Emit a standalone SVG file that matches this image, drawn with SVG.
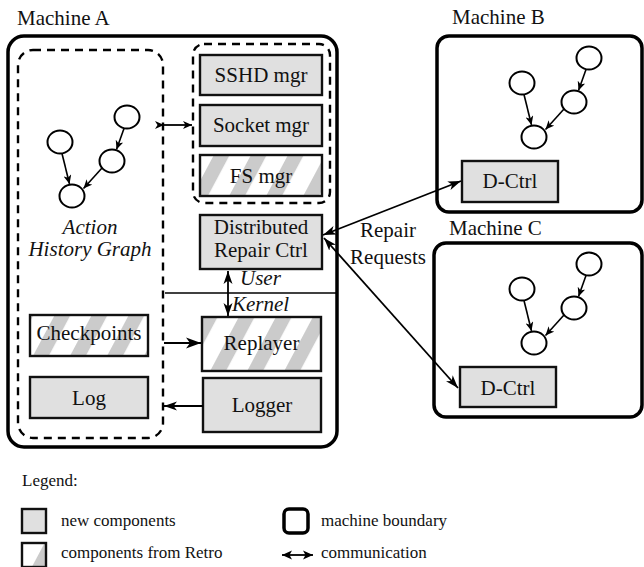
<svg xmlns="http://www.w3.org/2000/svg" width="644" height="567" viewBox="0 0 644 567">
<style>
text{font-family:"Liberation Serif","Times New Roman",serif;fill:#111}
.t{font-size:21px}
.it{font-size:21px;font-style:italic}
.lg{font-size:17px}
.mach{fill:#fff;stroke:#000;stroke-width:3.5}
.dash{fill:none;stroke:#000;stroke-width:2.4;stroke-dasharray:8 6}
.new{fill:#e0e0e0;stroke:#111;stroke-width:2.4}
.retro{fill:url(#hatch);stroke:#111;stroke-width:2.4}
.circ{fill:#fff;stroke:#000;stroke-width:2}
.edge{fill:none;stroke:#000;stroke-width:1.6;marker-end:url(#sm)}
.con{fill:none;stroke:#000;stroke-width:1.8}
</style>
<defs>
<pattern id="hatch" patternUnits="userSpaceOnUse" width="32.7" height="10" patternTransform="rotate(28)">
<rect width="32.7" height="10" fill="#fff"/>
<rect width="14" height="10" fill="#cbcbcb"/>
</pattern>
<marker id="sm" markerUnits="userSpaceOnUse" markerWidth="10" markerHeight="8" refX="9" refY="4" orient="auto">
<path d="M0,0 L9,4 L0,8 L2.5,4 z" fill="#000"/>
</marker>
<marker id="ah" markerUnits="userSpaceOnUse" markerWidth="14" markerHeight="10" refX="13" refY="5" orient="auto-start-reverse">
<path d="M0,0.5 L13,5 L0,9.5 L3.5,5 z" fill="#000"/>
</marker>
<marker id="ahb" markerUnits="userSpaceOnUse" markerWidth="16" markerHeight="12" refX="15" refY="6" orient="auto-start-reverse">
<path d="M0,0.5 L15,6 L0,11.5 L4,6 z" fill="#000"/>
</marker>
<marker id="lgh" markerUnits="userSpaceOnUse" markerWidth="11" markerHeight="10" refX="10" refY="5" orient="auto-start-reverse">
<path d="M0,0.5 L10,5 L0,9.5 L2.5,5 z" fill="#000"/>
</marker>
<g id="graph">
<path class="edge" d="M62,153.5 L69.5,184"/>
<path class="edge" d="M124,128.5 L116.5,149.5"/>
<path class="edge" d="M102,168 L83.5,188.5"/>
<ellipse class="circ" cx="60" cy="142" rx="12.5" ry="11.5"/>
<ellipse class="circ" cx="127" cy="117" rx="12.5" ry="11.5"/>
<ellipse class="circ" cx="112" cy="161" rx="12.5" ry="11.5"/>
<ellipse class="circ" cx="72" cy="196" rx="12.5" ry="11.5"/>
</g>
</defs>

<g id="machineA">
<text class="t" x="17" y="25">Machine A</text>
<rect class="mach" x="8" y="36" width="329" height="411" rx="16"/>
</g>
<g id="machineB">
<text class="t" x="452" y="24">Machine B</text>
<rect class="mach" x="437" y="36" width="205" height="176" rx="12"/>
</g>
<g id="machineC">
<text class="t" x="449" y="235">Machine C</text>
<rect class="mach" x="434" y="243" width="208" height="174" rx="12"/>
</g>

<g id="actionHistoryGraph">
<rect class="dash" x="18" y="50" width="145" height="388" rx="15"/>
<use href="#graph"/>
<text class="it" x="90" y="234" text-anchor="middle">Action</text>
<text class="it" x="90" y="256" text-anchor="middle">History Graph</text>
</g>
<g id="mgrGroup">
<rect class="dash" x="193" y="44" width="137" height="159" rx="11"/>
</g>
<g id="sshd">
<rect class="new" x="200" y="55" width="122" height="40"/>
<text class="t" x="261" y="81.5" text-anchor="middle">SSHD mgr</text>
</g>
<g id="socket">
<rect class="new" x="200" y="105" width="122" height="41"/>
<text class="t" x="261" y="132" text-anchor="middle">Socket mgr</text>
</g>
<g id="fs">
<rect class="retro" x="200" y="155" width="122" height="41"/>
<text class="t" x="261" y="182.5" text-anchor="middle">FS mgr</text>
</g>
<g id="drc">
<rect class="new" x="200" y="215" width="122" height="54"/>
<text class="t" x="261" y="234" text-anchor="middle">Distributed</text>
<text class="t" x="261" y="257" text-anchor="middle">Repair Ctrl</text>
</g>
<g id="checkpoints">
<rect class="retro" x="30" y="315" width="118" height="41"/>
<text class="t" x="89" y="340" text-anchor="middle">Checkpoints</text>
</g>
<g id="replayer">
<rect class="retro" x="202" y="317" width="119" height="54"/>
<text class="t" x="261.5" y="350" text-anchor="middle">Replayer</text>
</g>
<g id="log">
<rect class="new" x="30" y="377" width="118" height="41"/>
<text class="t" x="89" y="405" text-anchor="middle">Log</text>
</g>
<g id="logger">
<rect class="new" x="203" y="378" width="118" height="54"/>
<text class="t" x="262" y="412" text-anchor="middle">Logger</text>
</g>
<g id="dctrlB">
<use href="#graph" transform="translate(462,-59)"/>
<rect class="new" x="462" y="161" width="96" height="41"/>
<text class="t" x="510" y="188" text-anchor="middle">D-Ctrl</text>
</g>
<g id="dctrlC">
<use href="#graph" transform="translate(462,147)"/>
<rect class="new" x="460" y="367" width="96" height="40"/>
<text class="t" x="508" y="395" text-anchor="middle">D-Ctrl</text>
</g>

<g id="connectors">
<line x1="165" y1="293" x2="336" y2="293" stroke="#000" stroke-width="1.6"/>
<text class="it" x="240" y="285">User</text>
<text class="it" x="232" y="311">Kernel</text>
<line class="con" x1="228" y1="271" x2="228" y2="316" stroke-width="2.6" marker-start="url(#ah)" marker-end="url(#ah)"/>
<line class="con" x1="164" y1="125" x2="192" y2="125" marker-start="url(#sm)" marker-end="url(#sm)"/>
<line class="con" x1="164" y1="343" x2="201" y2="343" stroke-width="3" marker-end="url(#ahb)"/>
<line class="con" x1="203" y1="406" x2="164" y2="406" marker-end="url(#ah)"/>
<line class="con" x1="323" y1="235" x2="461" y2="181" marker-start="url(#ah)" marker-end="url(#ah)"/>
<line class="con" x1="324" y1="238" x2="458" y2="388" marker-start="url(#ah)" marker-end="url(#ah)"/>
<text class="t" x="388" y="237" text-anchor="middle">Repair</text>
<text class="t" x="388" y="264" text-anchor="middle">Requests</text>
</g>

<g id="legend">
<text class="lg" x="22" y="486">Legend:</text>
<rect class="new" x="22" y="509" width="24" height="24" stroke-width="2"/>
<text class="lg" x="61" y="526">new components</text>
<rect class="retro" x="22" y="543" width="24" height="24" stroke-width="2"/>
<text class="lg" x="61" y="558">components from Retro</text>
<rect class="mach" x="284" y="509" width="24" height="24" rx="5"/>
<text class="lg" x="321" y="526">machine boundary</text>
<line class="con" x1="282" y1="555" x2="313" y2="555" stroke-width="2.2" marker-start="url(#lgh)" marker-end="url(#lgh)"/>
<text class="lg" x="321" y="558">communication</text>
</g>
</svg>
